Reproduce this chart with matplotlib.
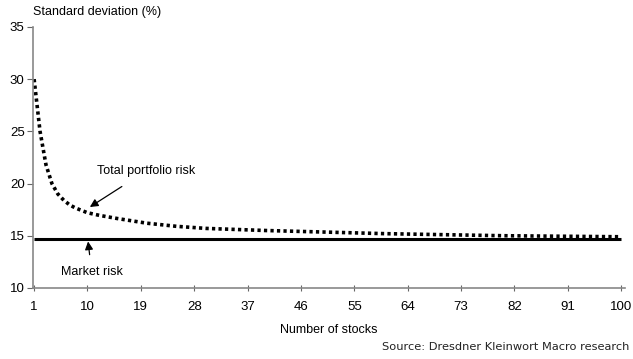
import matplotlib.pyplot as plt

plt.rcParams['font.family'] = ['Liberation Sans', 'DejaVu Sans']

# values
n_stocks = [1, 2, 3, 4, 5, 6, 7, 8, 10, 12, 15, 20, 25, 30, 40, 50, 60, 70, 80, 90, 100]
total_risk = [30.0, 25.0, 21.8, 20.0, 19.0, 18.4, 17.95, 17.65, 17.2, 16.95, 16.65, 16.2,
              15.9, 15.7, 15.5, 15.35, 15.2, 15.1, 15.0, 14.95, 14.9]
market_x = [1, 100]
market_risk = [14.7, 14.7]
xticks = [1, 10, 19, 28, 37, 46, 55, 64, 73, 82, 91, 100]
yticks = [10, 15, 20, 25, 30, 35]

fig = plt.figure(figsize=(6.33, 3.59), dpi=100)
ax = fig.add_axes([0.052, 0.198, 0.935, 0.727])

ax.plot(market_x, market_risk, color='black', lw=2.2, solid_capstyle='butt')
ax.plot(n_stocks, total_risk, color='black', lw=2.6, linestyle=(0, (0.9, 0.9)))

ax.set_xlim(0.8, 100.6)
ax.set_ylim(10, 35)
ax.set_xticks(xticks)
ax.set_yticks(yticks)
for s in ['top', 'right']:
    ax.spines[s].set_visible(False)
for s in ['left', 'bottom']:
    ax.spines[s].set_color('#888888')
    ax.spines[s].set_linewidth(1.2)
ax.tick_params(axis='y', direction='out', length=4, color='#666666', labelsize=9.5, pad=2)
ax.tick_params(axis='x', direction='inout', length=5, color='#666666', labelsize=9.5, pad=7)

ax.text(0, 1.035, 'Standard deviation (%)', transform=ax.transAxes, fontsize=9,
        ha='left', va='bottom')
ax.set_xlabel('Number of stocks', fontsize=9, labelpad=8)

ax.annotate('Total portfolio risk', xy=(10.4, 17.75), xytext=(11.6, 21.2), fontsize=9,
            ha='left', va='center',
            arrowprops=dict(arrowstyle='-|>', color='black', lw=0.9,
                            shrinkA=9, shrinkB=0, mutation_scale=12))
ax.annotate('Market risk', xy=(10.1, 14.45), xytext=(10.7, 11.55), fontsize=9,
            ha='center', va='center',
            arrowprops=dict(arrowstyle='-|>', color='black', lw=0.9,
                            shrinkA=6, shrinkB=0, mutation_scale=12))

fig.text(0.995, 0.02, 'Source: Dresdner Kleinwort Macro research', fontsize=8.2,
         family='DejaVu Sans', ha='right', va='bottom', color='#222222')

fig.savefig('out.png', dpi=100)
